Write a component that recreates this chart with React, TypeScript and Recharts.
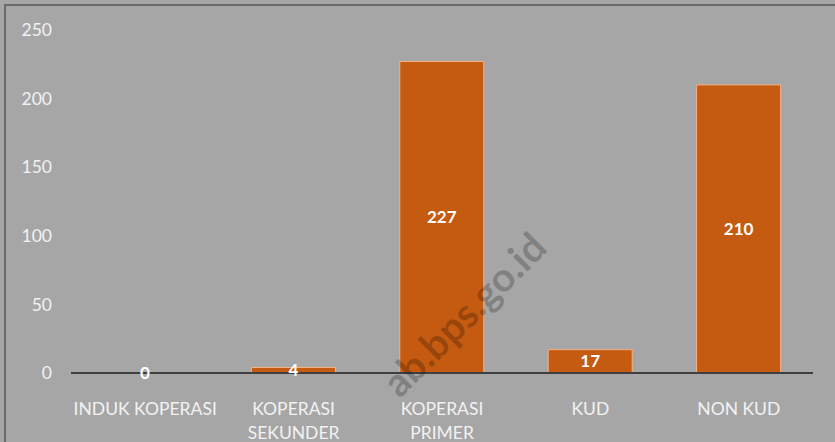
import { Bar, BarChart, Cell, LabelList, XAxis, YAxis } from 'recharts';

const CATEGORIES = ['INDUK KOPERASI', 'KOPERASI SEKUNDER', 'KOPERASI PRIMER', 'KUD', 'NON KUD'];
const TICK_LINES: Record<string, string[]> = {
  'INDUK KOPERASI': ['INDUK KOPERASI'],
  'KOPERASI SEKUNDER': ['KOPERASI', 'SEKUNDER'],
  'KOPERASI PRIMER': ['KOPERASI', 'PRIMER'],
  KUD: ['KUD'],
  'NON KUD': ['NON KUD'],
};
const COUNTS = [0, 4, 227, 17, 210];
const Y_TICKS = [0, 50, 100, 150, 200, 250];

const FONT = 'Lato, "Open Sans", sans-serif';
const BG = '#a6a6a6';

const data = CATEGORIES.map((name, i) => ({ name, count: COUNTS[i] }));

function CategoryTick({ x, y, payload }: { x?: number; y?: number; payload?: { value: string } }) {
  const lines = TICK_LINES[payload?.value ?? ''] ?? [payload?.value ?? ''];
  return (
    <g transform={`translate(${x},${y})`}>
      {lines.map((line, i) => (
        <text
          key={line}
          x={0}
          y={34 + i * 24}
          textAnchor="middle"
          fill="#f2f2f2"
          fontSize={17.5}
          fontFamily={FONT}
        >
          {line}
        </text>
      ))}
    </g>
  );
}

export default function App() {
  return (
    <div style={{ position: 'absolute', left: 0, top: 0, width: 835, height: 442, background: BG, overflow: 'hidden' }}>
      <div
        style={{
          position: 'absolute',
          left: 4,
          top: 4,
          right: 0,
          bottom: 0,
          borderTop: '2px solid #6b6b6b',
          borderLeft: '2px solid #6b6b6b',
        }}
      />
      <BarChart
        width={835}
        height={442}
        data={data}
        margin={{ top: 30, right: 22, bottom: 0, left: 8 }}
        barCategoryGap={32}
        style={{ position: 'absolute', left: 0, top: 0 }}
      >
        <XAxis
          dataKey="name"
          tick={<CategoryTick />}
          tickLine={false}
          axisLine={{ stroke: '#3f3f3f', strokeWidth: 2 }}
          height={69}
          interval={0}
        />
        <YAxis
          domain={[0, 250]}
          ticks={Y_TICKS}
          width={63}
          axisLine={false}
          tickLine={false}
          tickSize={0}
          tickMargin={19}
          tick={{ fill: '#f2f2f2', fontSize: 17.5, fontFamily: FONT }}
        />
        <Bar
          dataKey="count"
          fill="#c55a11"
          stroke="#f4b183"
          strokeWidth={1}
          minPointSize={(value: number) => (value === 0 ? 1 : 0)}
          isAnimationActive={false}
        >
          {data.map((d) => (
            <Cell
              key={d.name}
              fill={d.count === 0 ? 'none' : '#c55a11'}
              stroke={d.count === 0 ? 'none' : '#f4b183'}
            />
          ))}
          <LabelList
            dataKey="count"
            position="center"
            fill="#ffffff"
            fontSize={17}
            fontWeight="bold"
            fontFamily={FONT}
          />
        </Bar>
      </BarChart>
      {/* watermark */}
      <svg width={835} height={442} style={{ position: 'absolute', left: 0, top: 0, pointerEvents: 'none' }}>
        <text
          x={549}
          y={250}
          textAnchor="end"
          transform="rotate(-45 549 250)"
          fontSize={40}
          fontWeight="bold"
          fontFamily={FONT}
          fill="#000000"
          fillOpacity={0.22}
        >
          ab.bps.go.id
        </text>
      </svg>
    </div>
  );
}
